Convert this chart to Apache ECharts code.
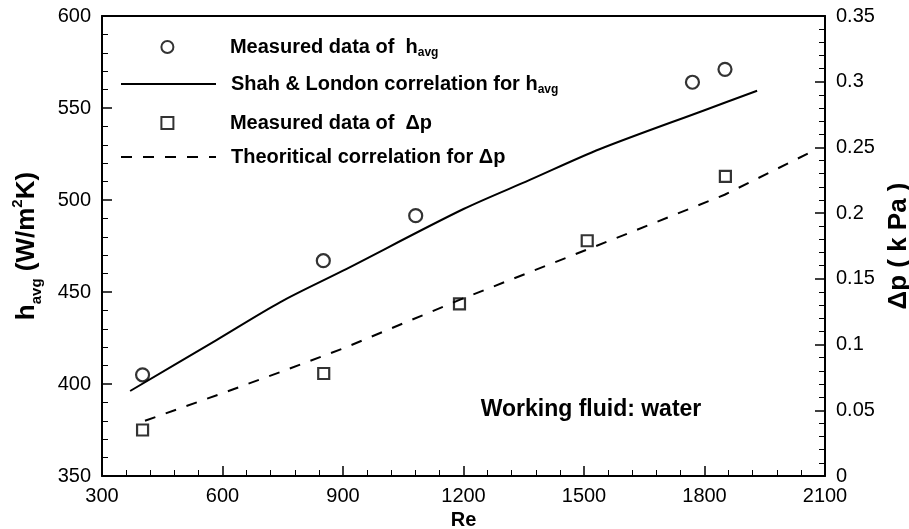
<!DOCTYPE html>
<html>
<head>
<meta charset="utf-8">
<script src="https://cdn.jsdelivr.net/npm/echarts@6/dist/echarts.min.js"></script>
<style>
  html, body { margin: 0; padding: 0; background: #fff; }
  #chart { width: 909px; height: 529px; }
</style>
</head>
<body>
<div id="chart"></div>
<script>
// ---- data ----
const hMeasRe = [401, 851, 1081, 1770, 1851];
const hMeas = [405, 467, 491.5, 564, 571];

const hCorrRe = [370, 585, 743, 900, 1200, 1365, 1540, 1800, 1931];
const hCorr = [396.2, 423.9, 444.4, 461.6, 495.1, 510.9, 527.7, 548.8, 559.4];

const dpMeasRe = [401, 852, 1190, 1508, 1852];
const dpMeas = [0.035, 0.078, 0.131, 0.179, 0.228];

const dpCorrRe = [407, 600, 743, 900, 1190, 1580, 1850, 2075];
const dpCorr = [0.042, 0.063, 0.079, 0.097, 0.134, 0.181, 0.214, 0.248];

const seriesNames = [
  'Measured data of  h_avg',
  'Shah & London correlation for h_avg',
  'Measured data of  Δp',
  'Theoritical correlation for Δp'
];
const legendRich = {
  'Measured data of  h_avg': '{t|Measured data of  h}{s|avg}',
  'Shah & London correlation for h_avg': '{t|Shah & London correlation for h}{s|avg}',
  'Measured data of  Δp': '{t|Measured data of  Δp}',
  'Theoritical correlation for Δp': '{t|Theoritical correlation for Δp}'
};
const annotation = 'Working fluid: water';

const zip = (xs, ys) => xs.map((x, i) => [x, ys[i]]);

const FONT = 'Liberation Sans, Arial, sans-serif';
const chart = echarts.init(document.getElementById('chart'), null, { renderer: 'canvas' });

function mkAxis(extra) {
  return Object.assign({
    type: 'value',
    axisLine: { show: true, onZero: false, lineStyle: { color: '#000', width: 2 } },
    axisTick: { show: true, inside: true, length: 10, lineStyle: { color: '#000', width: 1.5 } },
    minorTick: { show: true, splitNumber: 5, length: 6, lineStyle: { color: '#000', width: 1 } },
    splitLine: { show: false },
    minorSplitLine: { show: false },
    axisLabel: { show: true, color: '#000', fontSize: 20, fontFamily: FONT, margin: 11, formatter: (v) => String(v) }
  }, extra);
}

const legendTextStyle = {
  color: '#000',
  fontFamily: FONT,
  fontWeight: 'bold',
  fontSize: 20,
  rich: {
    t: { fontSize: 20, fontWeight: 'bold', fontFamily: FONT, color: '#000', lineHeight: 24, verticalAlign: 'middle', padding: [0, 0, 0, 10] },
    s: { fontSize: 12, fontWeight: 'bold', fontFamily: FONT, color: '#000', lineHeight: 12, verticalAlign: 'bottom' }
  }
};
const legendTops = [37, 74, 113, 147];
const legendLefts = [160.4, 120, 160.4, 120];
const legendExtra = [
  { icon: 'circle' },
  { itemStyle: { opacity: 0 } },
  { icon: 'path://M0 0H10V10H0Z' },
  { itemStyle: { opacity: 0 } }
];
const legends = seriesNames.map((n, i) => ({
  orient: 'vertical',
  left: legendLefts[i],
  top: legendTops[i],
  padding: 0,
  itemWidth: 95,
  itemHeight: 12,
  selectedMode: false,
  data: [Object.assign({ name: n }, legendExtra[i])],
  formatter: (nm) => legendRich[nm],
  textStyle: legendTextStyle
}));

chart.setOption({
  animation: false,
  backgroundColor: '#fff',
  grid: {
    left: 102, right: 84, top: 16, bottom: 53,
    containLabel: false,
    outerBoundsMode: 'none'
  },
  legend: legends,
  xAxis: [
    mkAxis({
      position: 'bottom',
      min: 300, max: 2100, interval: 300,
      name: 'Re',
      nameLocation: 'middle',
      nameGap: 34,
      nameTextStyle: { color: '#000', fontSize: 20, fontWeight: 'bold', fontFamily: FONT },
      axisLabel: { color: '#000', fontSize: 20, fontFamily: FONT, margin: 10, formatter: (v) => String(v) }
    }),
    {
      type: 'value',
      position: 'top',
      min: 300, max: 2100, interval: 300,
      axisLine: { show: true, onZero: false, lineStyle: { color: '#000', width: 2 } },
      axisTick: { show: false },
      minorTick: { show: false },
      axisLabel: { show: false },
      splitLine: { show: false }
    }
  ],
  yAxis: [
    mkAxis({
      position: 'left',
      min: 350, max: 600, interval: 50,
      name: '{b|h}{s|avg}{b| (W/m}{p|2}{b|K)}',
      nameLocation: 'middle',
      nameGap: 58,
      nameTextStyle: {
        color: '#000', fontFamily: FONT, fontWeight: 'bold', fontSize: 26,
        rich: {
          b: { fontSize: 26, fontWeight: 'bold', fontFamily: FONT, color: '#000', lineHeight: 34, verticalAlign: 'middle' },
          s: { fontSize: 15, fontWeight: 'bold', fontFamily: FONT, color: '#000', lineHeight: 15, verticalAlign: 'bottom' },
          p: { fontSize: 15, fontWeight: 'bold', fontFamily: FONT, color: '#000', lineHeight: 15, verticalAlign: 'top' }
        }
      }
    }),
    mkAxis({
      position: 'right',
      min: 0, max: 0.35, interval: 0.05,
      name: 'Δp ( k Pa )',
      nameLocation: 'middle',
      nameGap: 55,
      nameTextStyle: { color: '#000', fontFamily: FONT, fontWeight: 'bold', fontSize: 26 }
    })
  ],
  graphic: [{
    type: 'text',
    x: 591, y: 410,
    style: {
      text: annotation,
      fill: '#000',
      font: 'bold 23px ' + FONT,
      textAlign: 'center',
      textVerticalAlign: 'middle'
    }
  }],
  series: [
    {
      name: seriesNames[0],
      type: 'scatter',
      yAxisIndex: 0,
      symbol: 'circle',
      symbolSize: 13,
      itemStyle: { color: 'rgba(0,0,0,0)', borderColor: '#000', borderWidth: 2.2 },
      emphasis: { disabled: true },
      data: zip(hMeasRe, hMeas),
      z: 5
    },
    {
      name: seriesNames[1],
      type: 'line',
      yAxisIndex: 0,
      symbol: 'none',
      smooth: 0.3,
      lineStyle: { color: '#000', width: 2 },
      itemStyle: { color: '#000' },
      emphasis: { disabled: true },
      data: zip(hCorrRe, hCorr)
    },
    {
      name: seriesNames[2],
      type: 'scatter',
      yAxisIndex: 1,
      symbol: 'rect',
      symbolSize: 11,
      itemStyle: { color: 'rgba(0,0,0,0)', borderColor: '#000', borderWidth: 2.2 },
      emphasis: { disabled: true },
      data: zip(dpMeasRe, dpMeas),
      z: 5
    },
    {
      name: seriesNames[3],
      type: 'line',
      yAxisIndex: 1,
      symbol: 'none',
      lineStyle: { color: '#000', width: 2, type: [11, 11] },
      itemStyle: { color: '#000' },
      emphasis: { disabled: true },
      data: zip(dpCorrRe, dpCorr)
    }
  ]
});
</script>
</body>
</html>
